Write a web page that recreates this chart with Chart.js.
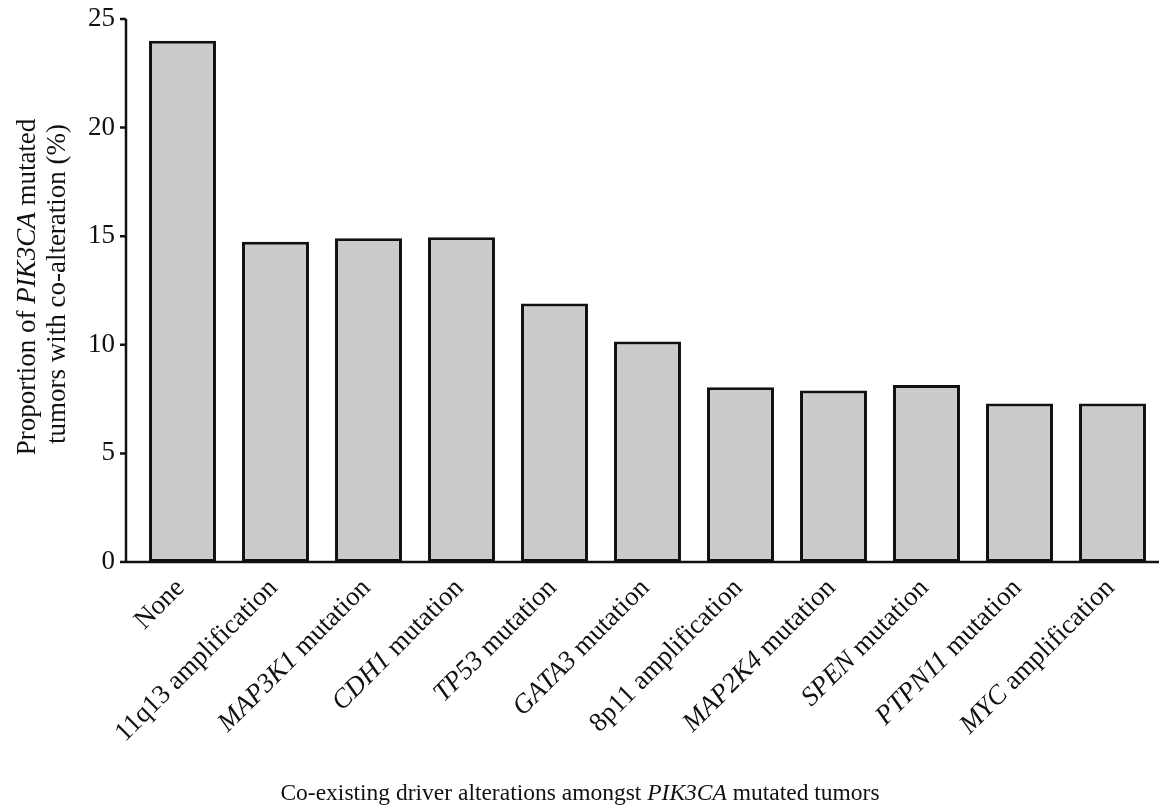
<!DOCTYPE html>
<html>
<head>
<meta charset="utf-8">
<script src="https://cdn.jsdelivr.net/npm/chart.js@4.4.0/dist/chart.umd.min.js"></script>
<style>
html, body { margin: 0; padding: 0; background: #fff; }
</style>
</head>
<body>
<canvas id="myChart" width="1159" height="810"></canvas>
<script>
var categories = ['None', '11q13 amplification', 'MAP3K1 mutation', 'CDH1 mutation', 'TP53 mutation',
    'GATA3 mutation', '8p11 amplification', 'MAP2K4 mutation', 'SPEN mutation', 'PTPN11 mutation', 'MYC amplification'];
// gene names shown in italics at the start of each label
var italicGenes = ['', '', 'MAP3K1', 'CDH1', 'TP53', 'GATA3', '', 'MAP2K4', 'SPEN', 'PTPN11', 'MYC'];
var proportions = [24.0, 14.75, 14.9, 14.95, 11.9, 10.15, 8.05, 7.9, 8.15, 7.3, 7.3];
var yTicks = [0, 5, 10, 15, 20, 25];

var serif = "'Liberation Serif', 'Times New Roman', serif";

// split a string into [italic, plain] parts
var splitLabel = function(text, gene) {
    if (!gene) return [{ text: text, italic: false }];
    return [{ text: gene, italic: true }, { text: text.slice(gene.length), italic: false }];
};

var drawParts = function(ctx, parts, size, align) {
    var total = 0;
    parts.forEach(p => {
        ctx.font = (p.italic ? 'italic ' : '') + size + 'px ' + serif;
        p.w = ctx.measureText(p.text).width;
        total += p.w;
    });
    var x = align === 'right' ? -total : (align === 'center' ? -total / 2 : 0);
    ctx.textAlign = 'left';
    parts.forEach(p => {
        ctx.font = (p.italic ? 'italic ' : '') + size + 'px ' + serif;
        ctx.fillText(p.text, x, 0);
        x += p.w;
    });
};

var axesPlugin = {
    id: 'axesPlugin',
    afterDraw: function(chart) {
        var ctx = chart.ctx;
        var area = chart.chartArea;
        var yScale = chart.scales.y;
        var xScale = chart.scales.x;
        var axisX = area.left - 10;
        ctx.save();
        ctx.strokeStyle = '#111';
        ctx.lineWidth = 2.5;
        ctx.beginPath();
        ctx.moveTo(axisX, yScale.getPixelForValue(25));
        ctx.lineTo(axisX, area.bottom);
        ctx.moveTo(axisX - 6, area.bottom);
        ctx.lineTo(chart.width, area.bottom);
        yTicks.forEach(t => {
            var py = yScale.getPixelForValue(t);
            ctx.moveTo(axisX - 6, py);
            ctx.lineTo(axisX, py);
        });
        ctx.stroke();

        ctx.fillStyle = '#111';
        ctx.textBaseline = 'middle';
        // rotated category labels
        categories.forEach((c, i) => {
            var px = xScale.getPixelForValue(i);
            ctx.save();
            ctx.translate(px - 2, area.bottom + 22);
            ctx.rotate(-Math.PI / 4);
            drawParts(ctx, splitLabel(c, italicGenes[i]), 27, 'right');
            ctx.restore();
        });

        // x axis title
        ctx.textBaseline = 'alphabetic';
        ctx.save();
        ctx.translate(580, 800);
        drawParts(ctx, [
            { text: 'Co-existing driver alterations amongst ', italic: false },
            { text: 'PIK3CA', italic: true },
            { text: ' mutated tumors', italic: false }
        ], 23.5, 'center');
        ctx.restore();

        // y axis title, two lines
        ctx.save();
        ctx.translate(35, 287);
        ctx.rotate(-Math.PI / 2);
        drawParts(ctx, [
            { text: 'Proportion of ', italic: false },
            { text: 'PIK3CA', italic: true },
            { text: ' mutated', italic: false }
        ], 27, 'center');
        ctx.restore();
        ctx.save();
        ctx.translate(65, 284);
        ctx.rotate(-Math.PI / 2);
        drawParts(ctx, [{ text: 'tumors with co-alteration (%)', italic: false }], 27, 'center');
        ctx.restore();
        ctx.restore();
    }
};

var ctx = document.getElementById('myChart').getContext('2d');
var myChart = new Chart(ctx, {
    type: 'bar',
    data: {
        labels: categories,
        datasets: [{
            label: 'Proportion',
            data: proportions,
            backgroundColor: '#cbcbcb',
            borderColor: '#111',
            borderWidth: 3,
            borderSkipped: false,
            barPercentage: 0.72,
            categoryPercentage: 1.0
        }]
    },
    options: {
        responsive: false,
        animation: false,
        layout: { padding: { top: 19, left: 0, right: 0, bottom: 0 } },
        plugins: {
            legend: { display: false },
            tooltip: { enabled: false }
        },
        scales: {
            x: {
                grid: { display: false },
                border: { display: false },
                ticks: { display: false },
                afterFit: function(scale) { scale.height = 248; }
            },
            y: {
                min: 0,
                max: 25,
                ticks: {
                    stepSize: 5,
                    padding: 13,
                    color: '#111',
                    font: { family: serif, size: 27 }
                },
                grid: { display: false },
                border: { display: false },
                afterFit: function(scale) {
                    scale.width = 136;
                    scale.paddingTop = 0;
                    scale.paddingBottom = 0;
                }
            }
        }
    },
    plugins: [axesPlugin]
});
</script>
</body>
</html>
